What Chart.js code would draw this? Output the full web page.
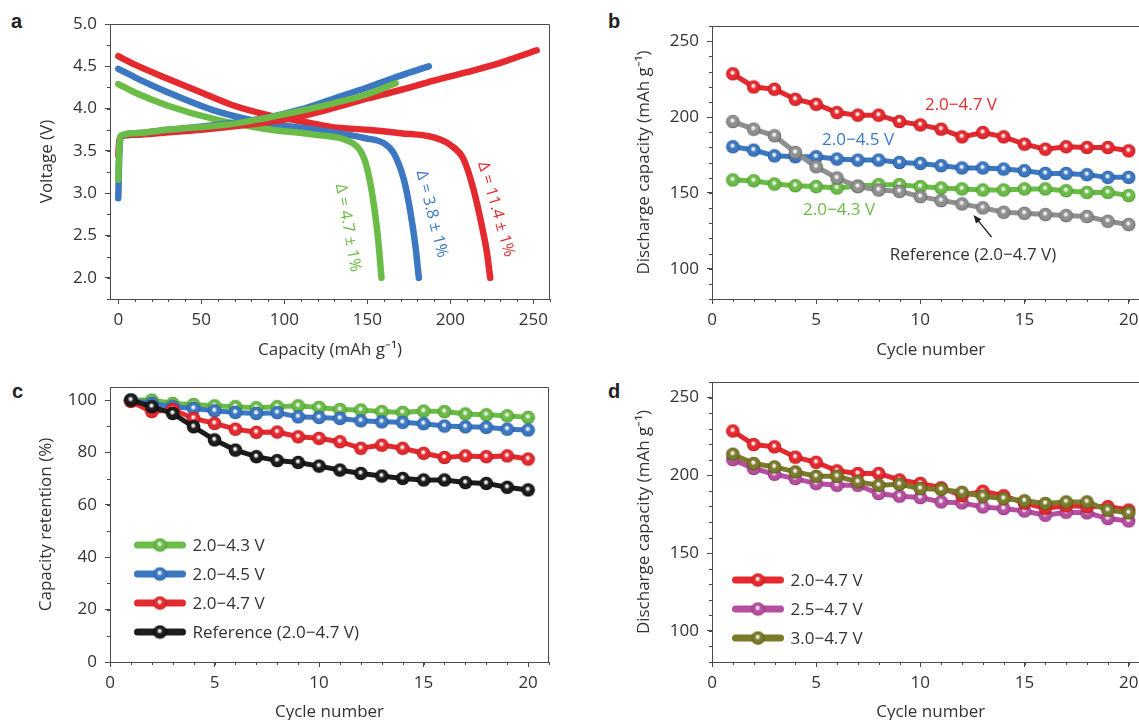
<!DOCTYPE html>
<html>
<head>
<meta charset="utf-8">
<script src="https://cdn.jsdelivr.net/npm/chart.js@4.4.0/dist/chart.umd.min.js"></script>
<style>
  body { margin: 0; width: 1139px; height: 720px; overflow: hidden; background: #fff; position: relative; }
  canvas { position: absolute; }
  .tag { position: absolute; font: bold 20px 'Liberation Sans', Arial, sans-serif; line-height: 20px; color: #222; }
</style>
</head>
<body>
<div class="tag" style="left:11px;top:11px">a</div>
<div class="tag" style="left:608px;top:11px">b</div>
<div class="tag" style="left:12px;top:381px">c</div>
<div class="tag" style="left:608px;top:381px">d</div>
<canvas id="chartA" width="570" height="360" style="left:0;top:0"></canvas>
<canvas id="chartB" width="600" height="360" style="left:570px;top:0"></canvas>
<canvas id="chartC" width="570" height="366" style="left:0;top:360px"></canvas>
<canvas id="chartD" width="600" height="366" style="left:570px;top:360px"></canvas>
<script>
'use strict';

/*---- data ----*/
var cycles = [1, 2, 3, 4, 5, 6, 7, 8, 9, 10, 11, 12, 13, 14, 15, 16, 17, 18, 19, 20];

// a: voltage profiles
var capRedCharge = [0, 0.5, 1.5, 10, 30, 50, 70, 90, 110, 130, 150, 170, 190, 210, 230, 252];
var voltRedCharge = [3.45, 3.6, 3.67, 3.69, 3.72, 3.75, 3.79, 3.84, 3.91, 4.01, 4.12, 4.22, 4.33, 4.43, 4.54, 4.69];
var capBlueCharge = [0, 0.5, 1.5, 10, 30, 60, 89, 110, 130, 150, 170, 187];
var voltBlueCharge = [2.94, 3.4, 3.67, 3.71, 3.75, 3.81, 3.89, 3.99, 4.12, 4.25, 4.39, 4.5];
var capGreenCharge = [0, 0.5, 1.5, 10, 29, 69, 99, 129, 150, 167];
var voltGreenCharge = [3.16, 3.5, 3.68, 3.71, 3.75, 3.82, 3.93, 4.06, 4.17, 4.3];
var capRedDischarge = [0, 10, 29, 50, 69, 89, 110, 129, 150, 170, 190, 200, 208, 214, 219, 222, 224];
var voltRedDischarge = [4.62, 4.52, 4.36, 4.19, 4.04, 3.93, 3.85, 3.78, 3.75, 3.71, 3.66, 3.57, 3.4, 3.04, 2.61, 2.3, 2.0];
var capBlueDischarge = [0, 10, 29, 59, 89, 119, 149, 160, 166, 172, 176, 179, 181];
var voltBlueDischarge = [4.47, 4.37, 4.2, 3.97, 3.83, 3.75, 3.65, 3.59, 3.47, 3.16, 2.77, 2.37, 2.0];
var capGreenDischarge = [0, 10, 29, 59, 89, 119, 137, 145.5, 149.5, 153.5, 156.5, 158.5];
var voltGreenDischarge = [4.29, 4.19, 4.04, 3.87, 3.76, 3.69, 3.63, 3.51, 3.32, 2.92, 2.45, 2.0];

// b: discharge capacity (mAh g-1)
var cap43 = [158.5, 158, 155.8, 154.7, 154.1, 153.2, 154.5, 155.4, 155.4, 154.1, 153.2, 152.6, 151.9, 151.9, 152.6, 152.6, 151.4, 150.3, 150.3, 148.2];
var cap45 = [180.4, 178.2, 174.4, 173.8, 173.8, 172.3, 171.6, 171.6, 170, 169.4, 167.9, 166.4, 166.4, 165.7, 164.6, 162.8, 162.8, 162, 160.2, 160.2];
var cap47 = [228.5, 219.8, 218.3, 211.7, 208.4, 202.9, 201.2, 201.2, 197, 194.8, 192, 186.9, 189.8, 186.9, 182.1, 178.8, 180.4, 179.9, 179.9, 177.7];
var capRef = [197, 192, 187.6, 176.6, 167.2, 159.8, 154.1, 151.9, 151, 147.5, 144.9, 142.7, 140.1, 137.2, 136.5, 135.7, 135, 134.4, 131.3, 129.1];

// c: capacity retention (%)
var ret43 = [100, 100, 98.7, 98.3, 97.8, 97.5, 97.1, 97.5, 97.8, 97.2, 96.4, 96.2, 95.6, 95.3, 95.8, 95.6, 94.7, 94.4, 94, 93.4];
var ret45 = [100, 98.7, 97.5, 96.8, 95.9, 95.3, 94.9, 95.2, 93.6, 93.4, 93, 92.1, 91.7, 91.5, 91, 90.1, 89.8, 89.6, 88.9, 88.6];
var ret47 = [99.5, 95.6, 96.4, 93, 91.1, 88.9, 87.7, 87.8, 86, 85.4, 84.1, 81.6, 82.8, 81.6, 79.7, 78.1, 78.7, 78.4, 78.7, 77.5];
var retRef = [100, 97.5, 94.9, 89.8, 84.8, 80.9, 78.4, 76.9, 76.2, 74.8, 73.3, 72, 71, 70.1, 69.5, 69.5, 68.5, 68.2, 66.7, 65.7];

// d: lower cut-off voltage
var cap25 = [210.1, 204.4, 200.7, 197.9, 194.7, 193.6, 193.6, 188.3, 186.6, 185.7, 182.9, 182.3, 179.7, 178.6, 177.1, 174.4, 176.3, 175.9, 172.2, 170.7];
var cap30 = [213.6, 207.6, 205.4, 202.2, 199.4, 199.4, 195.8, 193.6, 194.3, 191.5, 190.9, 189.1, 186.6, 185.1, 183.6, 181.9, 182.9, 182.9, 177.6, 175.9];

// tick labels
var ticksCapacity = [0, 50, 100, 150, 200, 250];
var ticksVoltage = [2.0, 2.5, 3.0, 3.5, 4.0, 4.5, 5.0];
var ticksCycle = [0, 5, 10, 15, 20];
var ticksDischarge = [100, 150, 200, 250];
var ticksRetention = [0, 20, 40, 60, 80, 100];

/*---- style ----*/
var FONT = "'Open Sans', sans-serif";
var INK = '#333';
var FRAME = '#4a4a4a';
var RED = '#e52a2f', BLUE = '#3c77c2', GREEN = '#6bbb47', GRAY = '#8f8f8f',
    BLACK = '#1c1c1c', PURPLE = '#b64f9f', OLIVE = '#7b7a2b';

function sphere(color, dark) {
	var r = 6.8, c = document.createElement('canvas');
	c.width = c.height = 15;
	var g = c.getContext('2d');
	var grad = g.createRadialGradient(7, 6, 0, 7.5, 7.5, r);
	grad.addColorStop(0, '#ffffff');
	grad.addColorStop(0.16, '#f4f4f4');
	grad.addColorStop(0.42, color);
	grad.addColorStop(0.8, color);
	grad.addColorStop(1, dark);
	g.fillStyle = grad;
	g.beginPath();
	g.arc(7.5, 7.5, r, 0, Math.PI * 2);
	g.fill();
	return c;
}

function pts(xs, ys) {
	return xs.map(function(x, i) { return {x: x, y: ys[i]}; });
}

function axis(o) {
	return {
		type: 'linear',
		position: o.position,
		min: o.min,
		max: o.max,
		afterBuildTicks: function(s) { s.ticks = o.ticks.map(function(v) { return {value: v}; }); },
		afterFit: function(s) { if (o.width) s.width = o.width; if (o.height) s.height = o.height; },
		ticks: {
			color: INK, font: {family: FONT, size: 17}, padding: o.pad,
			maxRotation: 0, autoSkip: false,
			callback: o.fmt || function(v) { return v; }
		},
		grid: {drawOnChartArea: false, tickLength: 5, tickColor: FRAME, tickWidth: 1},
		border: {color: FRAME, width: 1},
		title: {display: true, text: o.title, color: INK, font: {family: FONT, size: 17}, padding: o.titlePad}
	};
}

// frame, minor ticks, labels, legends
var decor = {
	id: 'decor',
	afterDraw: function(chart, args, opts) {
		var ctx = chart.ctx, a = chart.chartArea, xs = chart.scales.x, ys = chart.scales.y;
		ctx.save();
		ctx.strokeStyle = FRAME;
		ctx.lineWidth = 1;
		ctx.beginPath();
		var t = Math.round(a.top) + 0.5, rgt = Math.round(a.right) - 0.5;
		ctx.moveTo(Math.round(a.left), t); ctx.lineTo(rgt, t); ctx.lineTo(rgt, a.bottom);
		var k, v, p;
		for (k = Math.ceil(xs.min / opts.xMinor); k * opts.xMinor <= xs.max + 1e-9; k++) {
			v = k * opts.xMinor;
			p = Math.round(xs.getPixelForValue(v)) + 0.5;
			ctx.moveTo(p, a.bottom); ctx.lineTo(p, a.bottom + 3);
		}
		for (k = Math.ceil(ys.min / opts.yMinor); k * opts.yMinor <= ys.max + 1e-9; k++) {
			v = k * opts.yMinor;
			p = Math.round(ys.getPixelForValue(v)) + 0.5;
			ctx.moveTo(a.left, p); ctx.lineTo(a.left - 3, p);
		}
		ctx.stroke();

		(opts.notes || []).forEach(function(n) {
			ctx.save();
			ctx.translate(xs.getPixelForValue(n.x), ys.getPixelForValue(n.y));
			ctx.rotate((n.rot || 0) * Math.PI / 180);
			ctx.font = (n.size || 17) + 'px ' + FONT;
			ctx.fillStyle = n.color;
			ctx.textAlign = 'center';
			ctx.textBaseline = 'middle';
			ctx.fillText(n.text, 0, 0);
			ctx.restore();
		});

		(opts.arrows || []).forEach(function(ar) {
			var x1 = xs.getPixelForValue(ar.from[0]), y1 = ys.getPixelForValue(ar.from[1]);
			var x2 = xs.getPixelForValue(ar.to[0]), y2 = ys.getPixelForValue(ar.to[1]);
			var ang = Math.atan2(y2 - y1, x2 - x1);
			ctx.strokeStyle = '#222'; ctx.fillStyle = '#222'; ctx.lineWidth = 1.3;
			ctx.beginPath(); ctx.moveTo(x1, y1);
			ctx.lineTo(x2 - 6 * Math.cos(ang), y2 - 6 * Math.sin(ang)); ctx.stroke();
			ctx.beginPath(); ctx.moveTo(x2, y2);
			ctx.lineTo(x2 - 9 * Math.cos(ang - 0.4), y2 - 9 * Math.sin(ang - 0.4));
			ctx.lineTo(x2 - 9 * Math.cos(ang + 0.4), y2 - 9 * Math.sin(ang + 0.4));
			ctx.closePath(); ctx.fill();
		});

		if (opts.legend) {
			var L = opts.legend;
			L.order.forEach(function(idx, i) {
				var ds = chart.data.datasets[idx];
				var y = a.top + L.dy + i * L.gap, x0 = a.left + L.dx;
				ctx.strokeStyle = ds.borderColor; ctx.lineWidth = 7; ctx.lineCap = 'round';
				ctx.beginPath(); ctx.moveTo(x0 + 3, y); ctx.lineTo(x0 + 48, y); ctx.stroke();
				ctx.drawImage(ds.pointStyle, x0 + 25.5 - 7.5, y - 7.5);
				ctx.font = '17px ' + FONT; ctx.fillStyle = INK;
				ctx.textAlign = 'left'; ctx.textBaseline = 'middle';
				ctx.fillText(ds.label, x0 + 58, y + 1);
			});
		}
		ctx.restore();
	}
};

function baseOptions(p) {
	return {
		responsive: false, animation: false, devicePixelRatio: 1,
		layout: {padding: p.padding},
		plugins: {legend: {display: false}, tooltip: {enabled: false}, decor: p.decor},
		scales: {x: axis(p.x), y: axis(p.y)}
	};
}

function curve(label, color, data) {
	return {label: label, data: data, borderColor: color, backgroundColor: color, borderWidth: 6.5,
		pointRadius: 0, borderCapStyle: 'round', borderJoinStyle: 'round',
		cubicInterpolationMode: 'monotone', tension: 0.4, fill: false};
}

function series(label, color, dark, ys) {
	return {label: label, data: pts(cycles, ys), borderColor: color, backgroundColor: color,
		borderWidth: 5, tension: 0, pointStyle: sphere(color, dark), pointRadius: 6.5, fill: false};
}

Chart.register(decor);

/*---- a ----*/
new Chart(document.getElementById('chartA'), {
	type: 'line',
	data: {datasets: [
		curve('2.0−4.3 V charge', GREEN, pts(capGreenCharge, voltGreenCharge)),
		curve('2.0−4.5 V charge', BLUE, pts(capBlueCharge, voltBlueCharge)),
		curve('2.0−4.7 V charge', RED, pts(capRedCharge, voltRedCharge)),
		curve('2.0−4.3 V discharge', GREEN, pts(capGreenDischarge, voltGreenDischarge)),
		curve('2.0−4.5 V discharge', BLUE, pts(capBlueDischarge, voltBlueDischarge)),
		curve('2.0−4.7 V discharge', RED, pts(capRedDischarge, voltRedDischarge))
	]},
	options: baseOptions({
		padding: {left: 0, top: 24, right: 20, bottom: 0},
		x: {position: 'bottom', min: -5, max: 260, ticks: ticksCapacity, height: 61, pad: 6,
			title: 'Capacity (mAh g⁻¹)', titlePad: {top: 0, bottom: 0}},
		y: {position: 'left', min: 1.75, max: 5.0, ticks: ticksVoltage, width: 110, pad: 8,
			fmt: function(v) { return v.toFixed(1); },
			title: 'Voltage (V)', titlePad: {top: 37, bottom: 0}},
		decor: {xMinor: 10, yMinor: 0.25, notes: [
			{text: 'Δ = 4.7 ± 1%', x: 138.3, y: 2.59, rot: 80, color: GREEN, size: 16},
			{text: 'Δ = 3.8 ± 1%', x: 188.8, y: 2.755, rot: 76, color: BLUE, size: 16},
			{text: 'Δ = 11.4 ± 1%', x: 227.5, y: 2.81, rot: 74, color: RED, size: 16}
		]}
	})
});

/*---- b ----*/
new Chart(document.getElementById('chartB'), {
	type: 'line',
	data: {datasets: [
		series('Reference (2.0−4.7 V)', GRAY, '#5a5a5a', capRef),
		series('2.0−4.7 V', RED, '#a81418', cap47),
		series('2.0−4.5 V', BLUE, '#1f4f8f', cap45),
		series('2.0−4.3 V', GREEN, '#3f8a25', cap43)
	]},
	options: baseOptions({
		padding: {left: 0, top: 26, right: 20.5, bottom: 0},
		x: {position: 'bottom', min: 0, max: 21, ticks: ticksCycle, height: 61, pad: 6,
			title: 'Cycle number', titlePad: {top: 0, bottom: 0}},
		y: {position: 'left', min: 80, max: 260, ticks: ticksDischarge, width: 142, pad: 8,
			title: 'Discharge capacity (mAh g⁻¹)', titlePad: {top: 64, bottom: 0}},
		decor: {xMinor: 1, yMinor: 10,
			notes: [
				{text: '2.0−4.7 V', x: 11.95, y: 207.9, color: RED},
				{text: '2.0−4.5 V', x: 7.01, y: 184.8, color: BLUE},
				{text: '2.0−4.3 V', x: 6.1, y: 138.7, color: GREEN},
				{text: 'Reference (2.0−4.7 V)', x: 12.53, y: 109, color: INK}
			],
			arrows: [{from: [13.42, 120.9], to: [12.55, 135.4]}]
		}
	})
});

/*---- c ----*/
new Chart(document.getElementById('chartC'), {
	type: 'line',
	data: {datasets: [
		series('Reference (2.0−4.7 V)', BLACK, '#000000', retRef),
		series('2.0−4.7 V', RED, '#a81418', ret47),
		series('2.0−4.5 V', BLUE, '#1f4f8f', ret45),
		series('2.0−4.3 V', GREEN, '#3f8a25', ret43)
	]},
	options: baseOptions({
		padding: {left: 0, top: 27, right: 21, bottom: 0},
		x: {position: 'bottom', min: 0, max: 21, ticks: ticksCycle, height: 64, pad: 6,
			title: 'Cycle number', titlePad: {top: 0, bottom: 4}},
		y: {position: 'left', min: 0, max: 105, ticks: ticksRetention, width: 110, pad: 8,
			title: 'Capacity retention (%)', titlePad: {top: 36, bottom: 0}},
		decor: {xMinor: 1, yMinor: 10, legend: {order: [3, 2, 1, 0], dx: 24.5, dy: 158, gap: 29}}
	})
});

/*---- d ----*/
new Chart(document.getElementById('chartD'), {
	type: 'line',
	data: {datasets: [
		series('3.0−4.7 V', OLIVE, '#4f4e16', cap30),
		series('2.0−4.7 V', RED, '#a81418', cap47),
		series('2.5−4.7 V', PURPLE, '#7e2a6e', cap25)
	]},
	options: baseOptions({
		padding: {left: 0, top: 22, right: 20.5, bottom: 0},
		x: {position: 'bottom', min: 0, max: 21, ticks: ticksCycle, height: 64, pad: 6,
			title: 'Cycle number', titlePad: {top: 0, bottom: 4}},
		y: {position: 'left', min: 80, max: 260, ticks: ticksDischarge, width: 142, pad: 8,
			title: 'Discharge capacity (mAh g⁻¹)', titlePad: {top: 64, bottom: 0}},
		decor: {xMinor: 1, yMinor: 10, legend: {order: [1, 2, 0], dx: 20.5, dy: 198, gap: 29}}
	})
});
</script>
</body>
</html>
